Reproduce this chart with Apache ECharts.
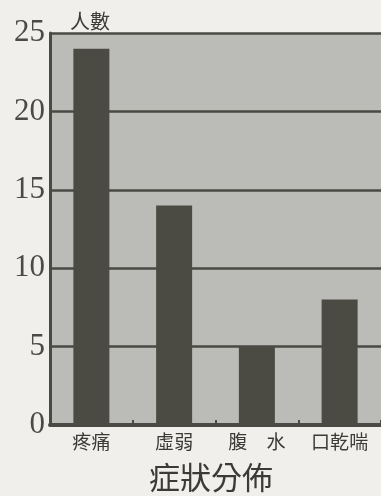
<!DOCTYPE html>
<html><head><meta charset="utf-8">
<script src="https://cdn.jsdelivr.net/npm/echarts@6/dist/echarts.min.js"></script>
<style>html,body{margin:0;padding:0;background:#f1efeb;}#c{width:381px;height:496px;}</style>
</head><body><div id="c"></div>
<script>
const categories = ['疼痛', '虛弱', '腹　水', '口乾喘'];
const counts = [24, 14, 5, 8];
const yTicks = [0, 5, 10, 15, 20, 25];
const chart = echarts.init(document.getElementById('c'), null, {renderer: 'canvas'});
chart.setOption({
  backgroundColor: '#f1efeb',
  animation: false,
  title: {
    text: '症狀分佈', left: 206, textAlign: 'center', top: 457,
    textStyle: {fontFamily: 'Noto Sans CJK TC', fontSize: 31, fontWeight: 'normal', color: '#3a3a36'}
  },
  grid: {left: 50, width: 336, top: 33, height: 392, show: true, backgroundColor: '#bbbcb7', borderWidth: 0},
  xAxis: {
    type: 'category', data: categories,
    axisLine: {show: true, lineStyle: {color: '#4a4a44', width: 4}},
    axisTick: {show: true, inside: true, length: 5, lineStyle: {color: '#4a4a44', width: 2}},
    axisLabel: {fontFamily: 'Noto Sans CJK TC', fontSize: 19, color: '#3a3a36', margin: 7}
  },
  yAxis: {
    type: 'value', min: 0, max: 25, interval: 5,
    name: '人數', nameLocation: 'end', nameGap: 2,
    nameTextStyle: {fontFamily: 'Noto Sans CJK TC', fontSize: 20, color: '#3a3a36', align: 'left', padding: [0, 0, 0, 20]},
    axisLine: {show: true, lineStyle: {color: '#4a4a44', width: 3}},
    axisTick: {show: false},
    axisLabel: {fontFamily: 'Liberation Serif', fontSize: 31, color: '#4a4a46', margin: 5,
      formatter: v => yTicks.includes(v) ? String(v) : ''},
    splitLine: {show: true, lineStyle: {color: '#4a4a44', width: 2.5}}
  },
  series: [{
    type: 'bar', data: counts, barWidth: 36,
    itemStyle: {color: '#4b4b44'}
  }]
});
</script></body></html>
